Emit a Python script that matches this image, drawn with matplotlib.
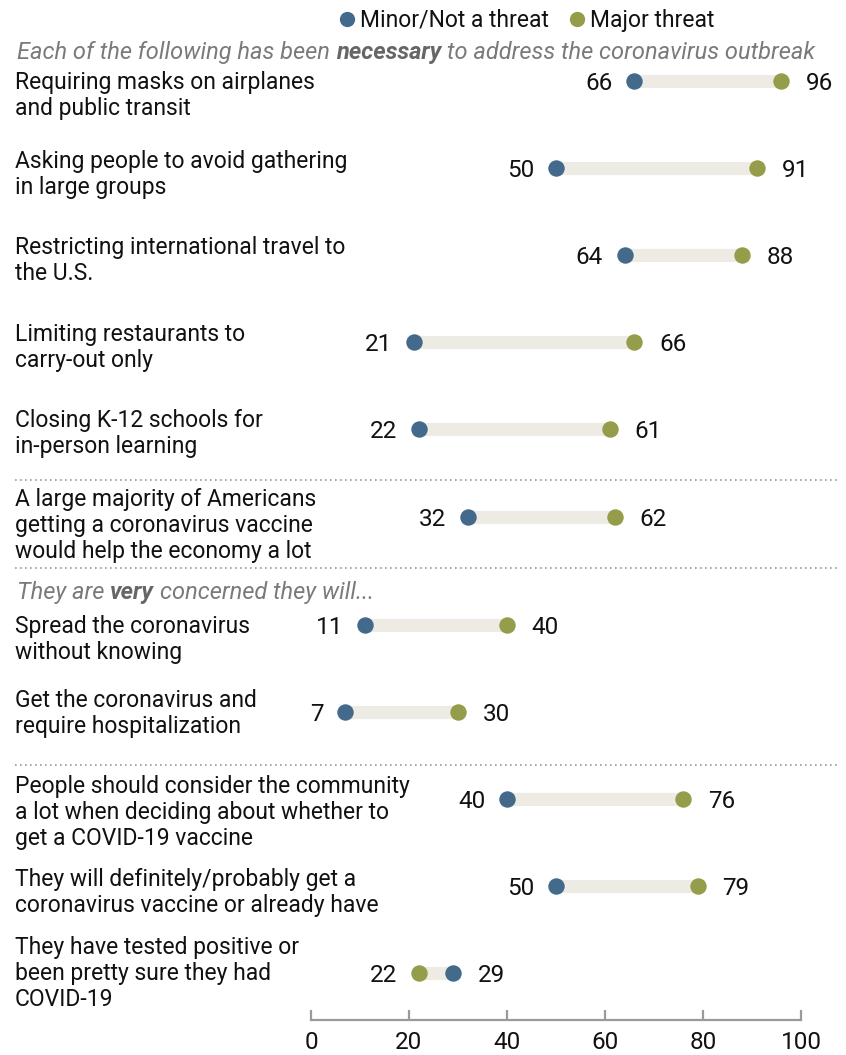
import matplotlib
matplotlib.use('Agg')
import matplotlib.pyplot as plt
from matplotlib.lines import Line2D

# ---------------- data ----------------
labels = [
    "Requiring masks on airplanes\nand public transit",
    "Asking people to avoid gathering\nin large groups",
    "Restricting international travel to\nthe U.S.",
    "Limiting restaurants to\ncarry-out only",
    "Closing K-12 schools for\nin-person learning",
    "A large majority of Americans\ngetting a coronavirus vaccine\nwould help the economy a lot",
    "Spread the coronavirus\nwithout knowing",
    "Get the coronavirus and\nrequire hospitalization",
    "People should consider the community\na lot when deciding about whether to\nget a COVID-19 vaccine",
    "They will definitely/probably get a\ncoronavirus vaccine or already have",
    "They have tested positive or\nbeen pretty sure they had\nCOVID-19",
]
minor_threat = [66, 50, 64, 21, 22, 32, 11, 7, 40, 50, 29]
major_threat = [96, 91, 88, 66, 61, 62, 40, 30, 76, 79, 22]
series_names = ["Minor/Not a threat", "Major threat"]
ticks = [0, 20, 40, 60, 80, 100]

# ---------------- layout / style ----------------
W, H = 846, 1055
row_y = [81, 168, 255, 342, 429, 517, 625, 712, 799, 886, 973]
label_y = [81, 160, 246, 333, 419, 498, 625, 699, 785, 878, 946]
sep_y = [480, 568, 765]
BLUE = '#436a8a'
GREEN = '#959d4a'
BAR = '#eeebe4'
GRAY = '#9a9a9a'
SUBGRAY = '#7a7a7a'

plt.rcParams['font.family'] = ['Roboto', 'DejaVu Sans']

fig = plt.figure(figsize=(W / 100, H / 100), dpi=100)
ax = fig.add_axes([311 / W, (H - 1020) / H, 490 / W, 1020 / H])
ax.set_xlim(0, 100)
ax.set_ylim(1020, 0)
for s in ['top', 'left', 'right']:
    ax.spines[s].set_visible(False)
ax.spines['bottom'].set_color(GRAY)
ax.spines['bottom'].set_linewidth(1.6)
ax.set_yticks([])
ax.set_xticks(ticks)
ax.set_xticklabels([str(t) for t in ticks])
ax.tick_params(axis='x', direction='in', length=7, width=1.6, color=GRAY,
               labelsize=17.5, pad=8, labelcolor='#111111')
ax.patch.set_visible(False)

FS = 16.5
NFS = 17.5
for i in range(len(labels)):
    y = row_y[i]
    a, b = minor_threat[i], major_threat[i]
    lo, hi = min(a, b), max(a, b)
    ax.hlines(y, lo, hi, color=BAR, linewidth=9.5, zorder=1)
    ax.scatter([a], [y], s=140, color=BLUE, zorder=3, clip_on=False, linewidths=0)
    ax.scatter([b], [y], s=140, color=GREEN, zorder=3, clip_on=False, linewidths=0)
    ax.text(lo - 4.4, y, str(lo), ha='right', va='center_baseline', fontsize=NFS, color='#111111')
    ax.text(hi + 5.0, y, str(hi), ha='left', va='center_baseline', fontsize=NFS, color='#111111')
    fig.text(15 / W, 1 - (label_y[i] - 10) / H, labels[i], ha='left', va='top',
             fontsize=FS, color='#111111', linespacing=1.17)

for y in sep_y:
    fig.add_artist(Line2D([15 / W, 840 / W], [1 - y / H, 1 - y / H], transform=fig.transFigure,
                          color='#9a9a9a', linestyle=(0, (1, 2)), linewidth=1.2))

# legend
for x_dot, x_txt, col, name in [(347, 360, BLUE, series_names[0]), (577, 590, GREEN, series_names[1])]:
    fig.add_artist(Line2D([x_dot / W], [1 - 19 / H], transform=fig.transFigure, marker='o',
                          markersize=11, color=col, markeredgewidth=0, linestyle='none'))
    fig.text(x_txt / W, 1 - 18 / H, name, ha='left', va='center_baseline', fontsize=FS, color='#111111')

# rich subtitles
renderer = fig.canvas.get_renderer()


def rich(x_px, y_px, parts, size):
    probe = fig.text(0, 0, 'x x', fontsize=size, style='italic')
    probe2 = fig.text(0, 0, 'xx', fontsize=size, style='italic')
    sp = probe.get_window_extent(renderer).width - probe2.get_window_extent(renderer).width
    probe.remove(); probe2.remove()
    x = x_px
    for j, (txt, weight, col) in enumerate(parts):
        t = fig.text(x / W, 1 - y_px / H, txt, ha='left', va='center_baseline', fontsize=size,
                     style='italic', weight=weight, color=col)
        x += t.get_window_extent(renderer).width + sp


rich(17, 50, [("Each of the following has been", 'normal', SUBGRAY),
              ("necessary", 'bold', '#666666'),
              ("to address the coronavirus outbreak", 'normal', SUBGRAY)], 17.0)
rich(17, 590, [("They are", 'normal', SUBGRAY),
               ("very", 'bold', '#666666'),
               ("concerned they will...", 'normal', SUBGRAY)], 17.0)

fig.savefig('out.png', dpi=100)
